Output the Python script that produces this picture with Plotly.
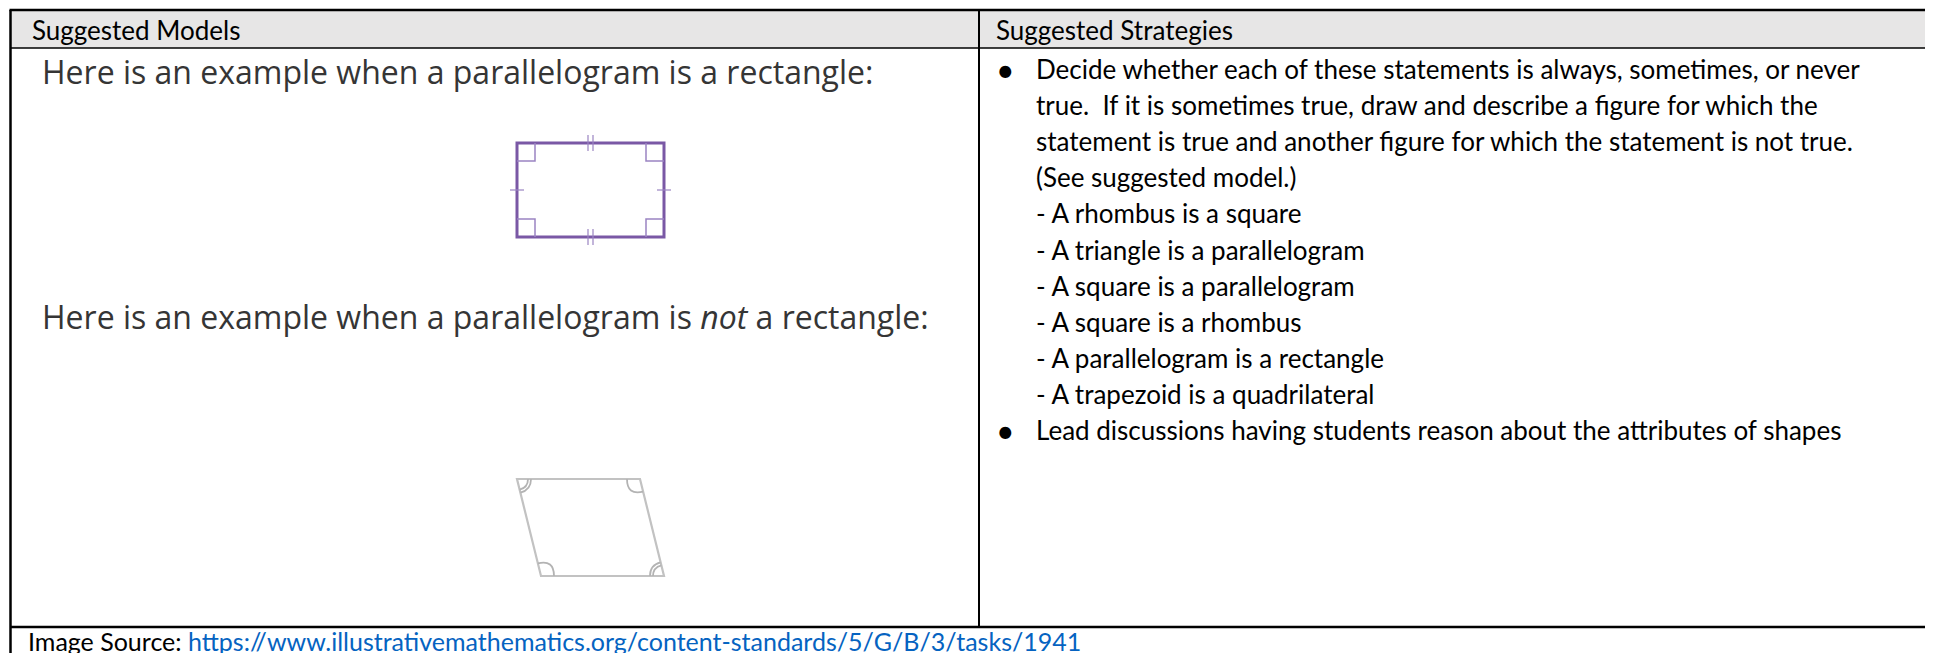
import plotly.graph_objects as go

# ================== Step 0: Prepare data ==================
headers = ["Suggested Models", "Suggested Strategies"]
model_captions = ["Here is an example when a parallelogram is a rectangle:",
                  "Here is an example when a parallelogram is <i>not</i> a rectangle:"]
strategy_lines = ["Decide whether each of these statements is always, sometimes, or never",
                  "true.  If it is sometimes true, draw and describe a figure for which the",
                  "statement is true and another figure for which the statement is not true.",
                  "(See suggested model.)",
                  "- A rhombus is a square",
                  "- A triangle is a parallelogram",
                  "- A square is a parallelogram",
                  "- A square is a rhombus",
                  "- A parallelogram is a rectangle",
                  "- A trapezoid is a quadrilateral",
                  "Lead discussions having students reason about the attributes of shapes"]
bullet_rows = [0, 10]
source_label = "Image Source: "
source_url = "https://www.illustrativemathematics.org/content-standards/5/G/B/3/tasks/1941"

# ================== Step 1: page geometry (pixels) ==================
W, H = 1933, 653
LEFT, RIGHT, TOP = 2.5, 1929.5, 2
HEAD_Y, FOOT_Y, MID_X = 40, 619, 971
LINE0, LINE_STEP = 61, 36.1

body_font = dict(family="Lato, Carlito, sans-serif", size=26, color="#000000")
model_font = dict(family="Open Sans, sans-serif", size=32, color="#353535")

fig = go.Figure()
shapes = []
annotations = []

# header band + table rules
shapes.append(dict(type="rect", x0=LEFT, x1=RIGHT, y0=TOP, y1=HEAD_Y,
                   fillcolor="#E7E6E6", line=dict(width=0), layer="below"))
for x0, y0, x1, y1, w in [(LEFT - 1, TOP, RIGHT + 1, TOP, 2.5),
                          (LEFT, TOP, LEFT, H, 2.5),
                          (RIGHT, TOP, RIGHT, H, 2.5),
                          (LEFT, HEAD_Y, RIGHT, HEAD_Y, 1.5),
                          (MID_X, TOP, MID_X, FOOT_Y, 2),
                          (LEFT, FOOT_Y, RIGHT, FOOT_Y, 2.5)]:
    shapes.append(dict(type="line", x0=x0, y0=y0, x1=x1, y1=y1,
                       line=dict(color="#000000", width=w)))

# headers
for x, txt in zip([22, MID_X + 15], headers):
    annotations.append(dict(x=x, y=(TOP + HEAD_Y) / 2 + 1, text=txt, showarrow=False,
                            xanchor="left", yanchor="middle", font=body_font))

# model captions
for y, txt in zip([63, 308], model_captions):
    annotations.append(dict(x=32, y=y, text=txt, showarrow=False,
                            xanchor="left", yanchor="middle", font=model_font))

# purple rectangle with right-angle marks and congruence ticks
rx0, rx1, ry0, ry1 = 509, 656, 135, 229
purple, purple_lt = "#7a58a5", "#9a84c2"
shapes.append(dict(type="rect", x0=rx0, x1=rx1, y0=ry0, y1=ry1,
                   line=dict(color=purple, width=3)))
m = 18
for cx, cy, sx, sy in [(rx0, ry0, 1, 1), (rx1, ry0, -1, 1), (rx0, ry1, 1, -1), (rx1, ry1, -1, -1)]:
    shapes.append(dict(type="path",
                       path=f"M {cx + sx * m},{cy} L {cx + sx * m},{cy + sy * m} L {cx},{cy + sy * m}",
                       line=dict(color=purple_lt, width=1.5)))
xm, ym = (rx0 + rx1) / 2, (ry0 + ry1) / 2
for yy in [ry0, ry1]:
    for dx in [-2.5, 2.5]:
        shapes.append(dict(type="line", x0=xm + dx, x1=xm + dx, y0=yy - 8, y1=yy + 8,
                           line=dict(color=purple_lt, width=1.2)))
for xx in [rx0, rx1]:
    shapes.append(dict(type="line", x0=xx - 7, x1=xx + 7, y0=ym, y1=ym,
                       line=dict(color=purple_lt, width=1.2)))

# gray parallelogram with angle arcs
verts = [(509, 471), (632, 471), (656, 568), (533, 568)]
shapes.append(dict(type="path",
                   path="M " + " L ".join(f"{x},{y}" for x, y in verts) + " Z",
                   line=dict(color="#c2c2c2", width=2.2)))


def unit(a, b):
    dx, dy = b[0] - a[0], b[1] - a[1]
    n = (dx * dx + dy * dy) ** 0.5
    return dx / n, dy / n


for i, v in enumerate(verts):
    u1 = unit(v, verts[(i - 1) % 4])
    u2 = unit(v, verts[(i + 1) % 4])
    dot = u1[0] * u2[0] + u1[1] * u2[1]
    radii = [11, 14] if i in (0, 2) else [13]
    for r in radii:
        p1 = (v[0] + r * u1[0], v[1] + r * u1[1])
        p2 = (v[0] + r * u2[0], v[1] + r * u2[1])
        k = r / (1 + dot)
        c = (v[0] + k * (u1[0] + u2[0]), v[1] + k * (u1[1] + u2[1]))
        shapes.append(dict(type="path",
                           path=f"M {p1[0]:.1f},{p1[1]:.1f} Q {c[0]:.1f},{c[1]:.1f} {p2[0]:.1f},{p2[1]:.1f}",
                           line=dict(color="#b3b3b3", width=1.8)))

# strategies column
for i, txt in enumerate(strategy_lines):
    y = LINE0 + i * LINE_STEP
    if i in bullet_rows:
        annotations.append(dict(x=997, y=y, text="•", showarrow=False,
                                xanchor="center", yanchor="middle",
                                font=dict(body_font, size=32)))
    annotations.append(dict(x=1026, y=y, text=txt, showarrow=False,
                            xanchor="left", yanchor="middle", font=body_font))

# footer with source link
annotations.append(dict(x=19, y=633, showarrow=False, xanchor="left", yanchor="middle",
                        borderpad=0,
                        text=source_label + f'<a href="{source_url}" style="color:#0563C1;'
                        f'text-decoration:underline">{source_url}</a>',
                        font=dict(body_font, size=25)))

fig.update_layout(width=W, height=H, margin=dict(l=0, r=0, t=0, b=0),
                  paper_bgcolor="white", plot_bgcolor="white",
                  xaxis=dict(range=[0, W], visible=False, fixedrange=True),
                  yaxis=dict(range=[H, 0], visible=False, fixedrange=True),
                  shapes=shapes, annotations=annotations, showlegend=False)

fig.write_html("out.html")
